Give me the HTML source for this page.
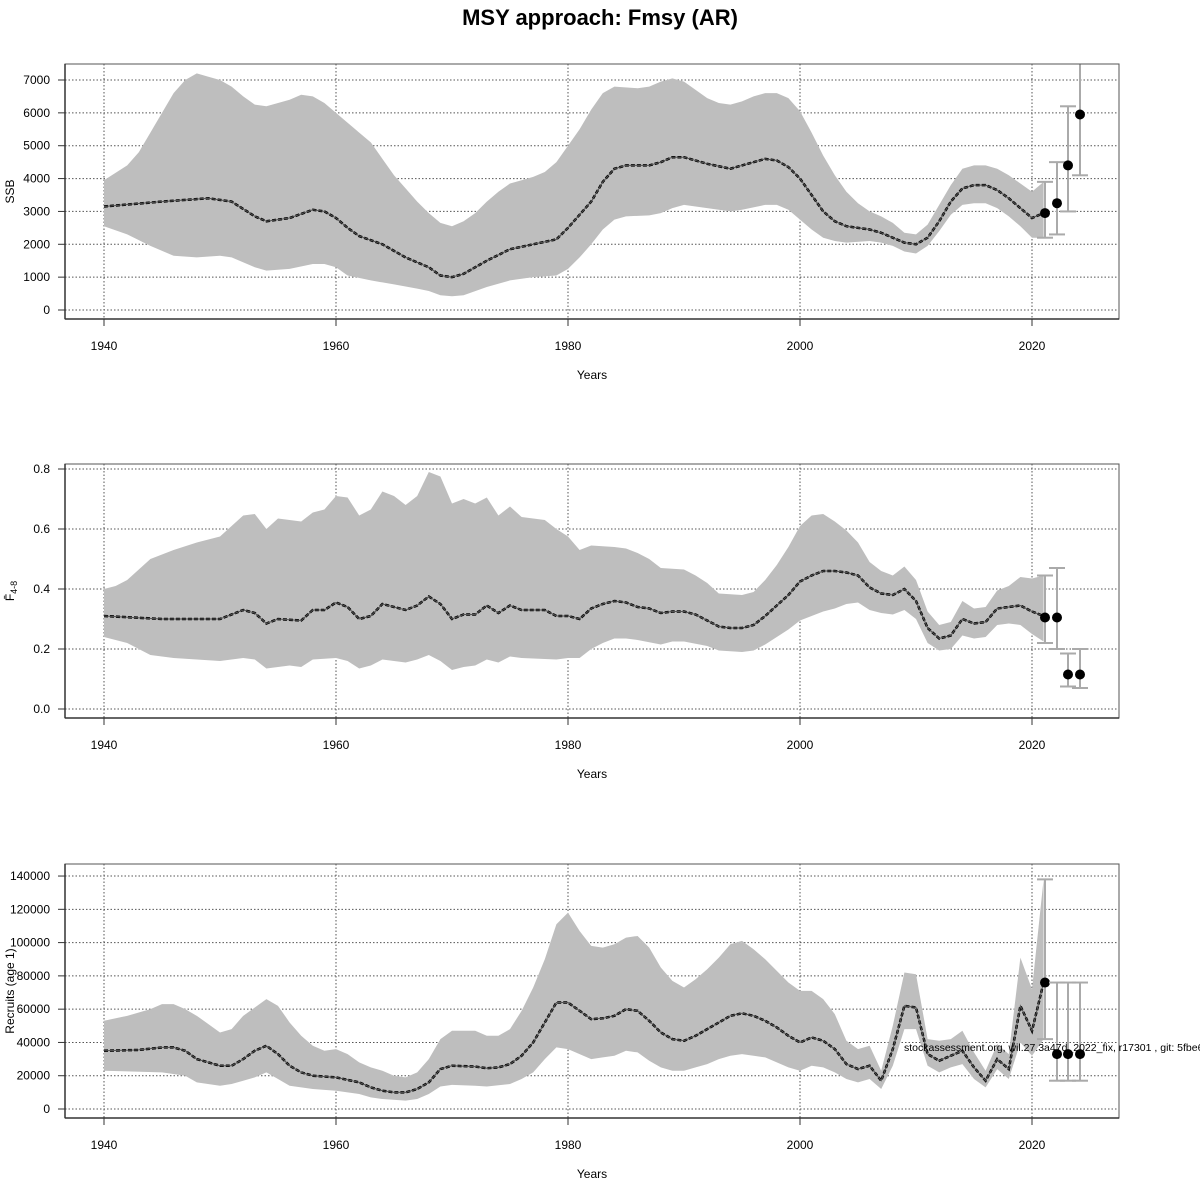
<!DOCTYPE html>
<html><head><meta charset="utf-8"><style>
html,body{margin:0;padding:0;background:#fff;}
svg{display:block;font-family:"Liberation Sans",sans-serif;}
</style></head><body>
<svg id="s" width="1200" height="1200" xmlns="http://www.w3.org/2000/svg">
<rect width="1200" height="1200" fill="#fff"/>
<text x="600" y="25" text-anchor="middle" font-size="22" font-weight="bold">MSY approach: Fmsy (AR)</text>
</svg>
<script>
const S=document.getElementById('s');const NS='http://www.w3.org/2000/svg';
function el(t,a,txt){const e=document.createElementNS(NS,t);for(const k in a)e.setAttribute(k,a[k]);if(txt!==undefined)e.textContent=txt;S.appendChild(e);return e;}
const X=y=>104+(y-1940)*11.6;
function P(arr){const o=[];for(let i=0;i<arr.length;i+=2)o.push([arr[i],arr[i+1]]);return o;}
function panel(c){
 const Y=v=>c.y0-(v/c.unit)*c.ppu;
 // grid
 for(let yr=1940;yr<=2020;yr+=20)el('line',{x1:X(yr),x2:X(yr),y1:c.top,y2:c.bot,stroke:'#555','stroke-dasharray':'1.5,2','stroke-width':1});
 c.ticks.forEach(t=>{el('line',{x1:65,x2:1119,y1:Y(t),y2:Y(t),stroke:'#555','stroke-dasharray':'1.5,2','stroke-width':1});
  el('line',{x1:58,x2:65,y1:Y(t),y2:Y(t),stroke:'#333'});
  el('text',{x:50,y:Y(t)+4,'text-anchor':'end','font-size':12},c.fmt(t));});
 // band
 const up=P(c.up),lo=P(c.lo);
 let d='M'+up.map(p=>X(p[0])+','+Y(p[1])).join('L')+'L'+lo.slice().reverse().map(p=>X(p[0])+','+Y(p[1])).join('L')+'Z';
 el('path',{d:d,fill:'#bebebe',stroke:'none'});
 const m=P(c.m);
 el('polyline',{points:m.map(p=>X(p[0])+','+Y(p[1])).join(' '),fill:'none',stroke:'#000','stroke-width':2.5,'stroke-dasharray':'4,2'});
 el('polyline',{points:m.map(p=>X(p[0])+','+Y(p[1])).join(' '),fill:'none',stroke:'#555','stroke-width':1});
 // forecasts
 const fx=[1045,1057,1068,1080];
 c.f.forEach((f,i)=>{const x=fx[i];const a=Math.max(Y(f[2]),c.top);
  el('line',{x1:x,x2:x,y1:Y(f[1]),y2:a,stroke:'#aaa','stroke-width':2});
  el('line',{x1:x-8,x2:x+8,y1:Y(f[1]),y2:Y(f[1]),stroke:'#aaa','stroke-width':2});
  if(Y(f[2])>=c.top)el('line',{x1:x-8,x2:x+8,y1:Y(f[2]),y2:Y(f[2]),stroke:'#aaa','stroke-width':2});
  el('circle',{cx:x,cy:Y(f[0]),r:5,fill:'#000'});});
 el('rect',{x:65,y:c.top,width:1054,height:c.bot-c.top,fill:'none',stroke:'#555','stroke-width':1});
 el('line',{x1:65,x2:65,y1:c.top,y2:c.bot,stroke:'#333','stroke-width':1.5});
 el('line',{x1:65,x2:1119,y1:c.bot,y2:c.bot,stroke:'#333','stroke-width':1.5});
 for(let yr=1940;yr<=2020;yr+=20){el('line',{x1:X(yr),x2:X(yr),y1:c.bot,y2:c.bot+7,stroke:'#333'});
  el('text',{x:X(yr),y:c.bot+31,'text-anchor':'middle','font-size':12},yr);}
 el('text',{x:592,y:c.bot+60,'text-anchor':'middle','font-size':12},'Years');
 const yl=el('text',{x:0,y:0,'text-anchor':'middle','font-size':12,transform:`translate(14,${(c.top+c.bot)/2}) rotate(-90)`});
 yl.innerHTML=c.lab;
}
panel({top:64,bot:319,y0:310,unit:1000,ppu:32.857,ticks:[0,1000,2000,3000,4000,5000,6000,7000],fmt:t=>t,lab:'SSB',
m:[1940,3150,1945,3300,1949,3400,1951,3300,1953,2850,1954,2700,1956,2800,1958,3050,1959,3000,1960,2800,1961,2500,1962,2250,1964,2000,1966,1600,1968,1300,1969,1050,1970,1000,1971,1100,1973,1500,1975,1850,1977,2000,1979,2150,1980,2500,1982,3300,1983,3900,1984,4300,1985,4400,1987,4400,1988,4500,1989,4650,1990,4650,1992,4450,1994,4300,1995,4400,1997,4600,1998,4550,1999,4350,2000,4000,2001,3500,2002,3000,2003,2700,2004,2550,2006,2450,2007,2350,2008,2200,2009,2050,2010,2000,2011,2200,2012,2700,2013,3300,2014,3700,2015,3800,2016,3800,2017,3650,2018,3400,2019,3100,2020,2800,2021,2950],
up:[1940,3950,1942,4400,1943,4800,1944,5400,1945,6000,1946,6600,1947,7000,1948,7200,1949,7100,1950,7000,1951,6800,1952,6500,1953,6250,1954,6200,1955,6300,1956,6400,1957,6550,1958,6500,1959,6300,1960,6000,1961,5700,1962,5400,1963,5100,1964,4600,1965,4100,1966,3700,1967,3300,1968,2950,1969,2650,1970,2550,1971,2700,1972,2950,1973,3300,1974,3600,1975,3850,1976,3950,1977,4050,1978,4200,1979,4500,1980,5000,1981,5500,1982,6100,1983,6600,1984,6800,1986,6750,1987,6800,1988,6950,1989,7050,1990,6950,1991,6700,1992,6450,1993,6300,1994,6250,1995,6350,1996,6500,1997,6600,1998,6600,1999,6450,2000,6050,2001,5400,2002,4700,2003,4100,2004,3600,2005,3250,2006,3000,2007,2850,2008,2650,2009,2350,2010,2300,2011,2600,2012,3200,2013,3800,2014,4300,2015,4400,2016,4400,2017,4300,2018,4100,2019,3850,2020,3600,2021,3900],
lo:[1940,2550,1942,2300,1944,1950,1946,1650,1948,1600,1950,1650,1951,1600,1953,1300,1954,1200,1956,1250,1958,1400,1959,1400,1960,1300,1961,1050,1963,900,1965,780,1967,650,1968,580,1969,450,1970,420,1971,450,1973,700,1975,900,1977,1000,1979,1050,1980,1250,1981,1600,1982,2000,1983,2450,1984,2750,1985,2850,1987,2880,1988,2950,1989,3100,1990,3200,1992,3100,1994,3000,1995,3050,1997,3200,1998,3200,1999,3050,2000,2750,2001,2450,2002,2200,2003,2100,2004,2050,2006,2100,2007,2050,2008,1950,2009,1780,2010,1720,2011,1950,2012,2400,2013,2900,2014,3200,2015,3250,2016,3250,2017,3100,2018,2850,2019,2550,2020,2200,2021,2200],
f:[[2950,2200,3900],[3250,2300,4500],[4400,3000,6200],[5950,4100,7500]]});
panel({top:464,bot:718,y0:709,unit:1,ppu:300,ticks:[0,0.2,0.4,0.6,0.8],fmt:t=>t.toFixed(1),lab:'F&#772;<tspan font-size="9" dy="3">4-8</tspan>',
m:[1940,.31,1945,.30,1950,.30,1952,.33,1953,.32,1954,.285,1955,.30,1957,.295,1958,.33,1959,.33,1960,.355,1961,.34,1962,.30,1963,.31,1964,.35,1965,.34,1966,.33,1967,.345,1968,.375,1969,.35,1970,.30,1971,.315,1972,.315,1973,.345,1974,.32,1975,.345,1976,.33,1978,.33,1979,.31,1980,.31,1981,.30,1982,.335,1983,.35,1984,.36,1985,.355,1986,.34,1987,.335,1988,.32,1989,.325,1990,.325,1991,.315,1992,.295,1993,.275,1994,.27,1995,.27,1996,.28,1997,.31,1998,.345,1999,.38,2000,.425,2001,.445,2002,.46,2003,.46,2004,.455,2005,.445,2006,.405,2007,.385,2008,.38,2009,.40,2010,.36,2011,.27,2012,.235,2013,.245,2014,.30,2015,.285,2016,.29,2017,.335,2018,.34,2019,.345,2020,.325,2021,.31],
up:[1940,.40,1941,.41,1942,.43,1944,.50,1946,.53,1948,.555,1950,.575,1951,.61,1952,.645,1953,.65,1954,.60,1955,.635,1956,.63,1957,.625,1958,.655,1959,.665,1960,.71,1961,.705,1962,.645,1963,.665,1964,.725,1965,.71,1966,.68,1967,.71,1968,.79,1969,.775,1970,.685,1971,.70,1972,.685,1973,.705,1974,.645,1975,.675,1976,.64,1978,.63,1979,.60,1980,.575,1981,.53,1982,.545,1984,.54,1985,.535,1986,.52,1987,.50,1988,.47,1990,.465,1991,.445,1992,.42,1993,.385,1995,.38,1996,.39,1997,.43,1998,.48,1999,.54,2000,.61,2001,.645,2002,.65,2003,.625,2004,.595,2005,.555,2006,.49,2007,.46,2008,.445,2009,.475,2010,.43,2011,.325,2012,.28,2013,.29,2014,.36,2015,.335,2016,.34,2017,.395,2018,.41,2019,.44,2020,.435,2021,.445],
lo:[1940,.24,1942,.22,1944,.18,1946,.17,1950,.16,1952,.17,1953,.165,1954,.135,1956,.145,1957,.14,1958,.165,1960,.17,1961,.16,1962,.135,1963,.145,1964,.165,1966,.155,1967,.165,1968,.18,1969,.16,1970,.13,1971,.14,1972,.145,1973,.165,1974,.155,1975,.175,1976,.17,1979,.165,1980,.17,1981,.17,1982,.20,1983,.22,1984,.235,1985,.235,1986,.23,1988,.215,1989,.225,1990,.225,1992,.21,1993,.195,1995,.19,1996,.195,1997,.215,1998,.24,1999,.265,2000,.295,2001,.31,2002,.325,2003,.335,2004,.35,2005,.355,2006,.33,2007,.32,2008,.315,2009,.33,2010,.30,2011,.22,2012,.195,2013,.20,2014,.245,2015,.235,2016,.24,2017,.28,2018,.285,2019,.28,2020,.25,2021,.225],
f:[[.305,.22,.445],[.305,.20,.47],[.115,.075,.185],[.115,.07,.20]]});
panel({top:864,bot:1118,y0:1109,unit:1000,ppu:1.664,ticks:[0,20000,40000,60000,80000,100000,120000,140000],fmt:t=>t,lab:'Recruits (age 1)',
m:[1940,35,1943,35.5,1945,37,1946,37,1947,35,1948,30,1950,26,1951,26,1952,30,1953,35,1954,38,1955,33,1956,26,1957,22,1958,20,1960,19,1962,16,1963,13,1964,11,1965,10,1966,10,1967,12,1968,16,1969,24,1970,26,1972,25.5,1973,24.5,1974,25,1975,27,1976,32,1977,40,1978,52,1979,64,1980,64,1981,59,1982,54,1983,54.5,1984,56,1985,60,1986,59,1987,53,1988,46,1989,42,1990,41,1991,44,1992,48,1993,52,1994,56,1995,57.5,1996,56,1997,53,1998,49,1999,44,2000,40,2001,43,2002,41,2003,36,2004,27,2005,24,2006,26,2007,17,2008,36,2009,62,2010,61,2011,33,2012,29,2013,32,2014,35,2015,25,2016,17,2017,30,2018,24,2019,62,2020,47,2021,76].map((v,i)=>i%2?v*1000:v),
up:[1940,53,1942,56,1944,60,1945,63,1946,63,1947,60,1948,56,1949,51,1950,46,1951,48,1952,56,1953,61,1954,66,1955,62,1956,52,1957,44,1958,38,1959,35,1960,36,1961,33,1962,28,1963,25,1964,23,1965,20,1966,19,1967,22,1968,30,1969,42,1970,47,1972,47,1973,44,1974,44,1975,48,1976,59,1977,73,1978,90,1979,111,1980,118,1981,107,1982,98,1983,97,1984,99,1985,103,1986,104,1987,97,1988,85,1989,77,1990,73,1991,78,1992,84,1993,91,1994,99,1995,101,1996,96,1997,90,1998,83,1999,76,2000,71,2001,71,2002,66,2003,57,2004,41,2005,36,2006,38,2007,23,2008,50,2009,82,2010,81,2011,42,2012,41,2013,42,2014,47,2015,34,2016,23,2017,39,2018,33,2019,91,2020,72,2021,138].map((v,i)=>i%2?v*1000:v),
lo:[1940,23,1945,22,1947,20,1948,16,1950,14,1951,15,1952,17,1953,19,1954,22,1955,18,1956,14,1958,12,1960,11,1962,9,1963,7,1964,6,1966,5,1967,6,1968,9,1969,13.5,1970,14.5,1972,14,1973,13.5,1975,15,1976,18,1977,22,1978,30,1979,37,1980,36,1981,33,1982,30,1983,31,1984,32,1985,35,1986,34,1987,29,1988,25,1989,23,1990,23,1991,25,1992,27,1993,30,1994,32,1995,33,1996,32,1997,31,1998,28,1999,25,2000,23,2001,26,2002,25,2003,22,2004,18,2005,16,2006,18,2007,12,2008,26,2009,48,2010,48,2011,26,2012,22,2013,25,2014,27,2015,18,2016,13,2017,24,2018,18,2019,40,2020,32,2021,42].map((v,i)=>i%2?v*1000:v),
f:[[76000,42000,138000],[33000,17000,76000],[33000,17000,76000],[33000,17000,76000]]});
el('text',{x:904,y:1051,'font-size':10.5},'stockassessment.org, wil.27.3a47d_2022_fix, r17301 , git: 5fbe6a');
</script>
</body></html>
